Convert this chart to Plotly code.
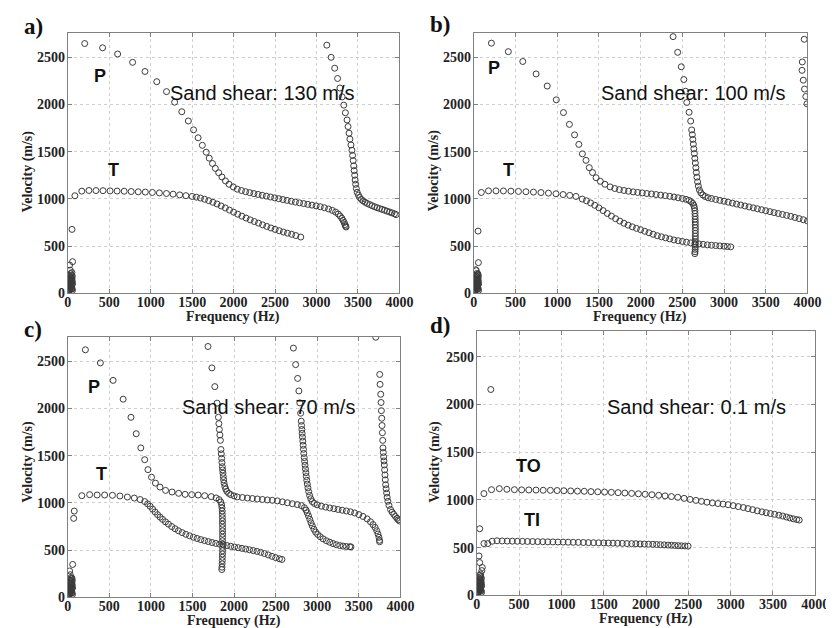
import plotly.graph_objects as go

# ---------------- data (frequency Hz, velocity m/s) ----------------
# Panel a: sand shear 130 m/s
a_low_f = [4, 8, 12, 16, 20, 24, 28, 32, 36, 40, 44, 48, 52, 56, 10, 18, 26, 34, 42, 50, 58, 14, 22, 30, 38, 46, 54, 20, 30, 40, 50, 25, 45, 35, 55, 30, 50, 22, 58, 6, 16, 26, 36, 46]
a_low_v = [5, 12, 20, 28, 35, 42, 50, 58, 65, 72, 80, 60, 45, 30, 90, 100, 110, 120, 130, 140, 100, 60, 70, 80, 95, 110, 125, 150, 160, 170, 155, 185, 195, 210, 180, 245, 220, 300, 335, 40, 75, 140, 90, 50]
a_T_f = [51, 86, 169, 255, 340, 425, 510, 595, 680, 765, 850, 935, 1020, 1105, 1190, 1270, 1350, 1425, 1500, 1550, 1600, 1650, 1700, 1750, 1800, 1850, 1900, 1950, 2000, 2050, 2100, 2150, 2200, 2250, 2300, 2350, 2400, 2450, 2500, 2550, 2600, 2650, 2700, 2750, 2810]
a_T_v = [677, 1033, 1082, 1089, 1088, 1087, 1085, 1083, 1081, 1078, 1075, 1072, 1068, 1063, 1057, 1050, 1042, 1034, 1026, 1018, 1009, 996, 981, 964, 946, 925, 904, 881, 859, 838, 817, 797, 778, 760, 743, 725, 708, 692, 677, 663, 649, 637, 625, 612, 596]
a_P1_f = [204, 420, 601, 782, 931, 1073, 1191, 1289, 1375, 1454, 1517, 1572, 1623, 1670, 1706, 1745, 1780, 1820, 1859, 1902, 1945, 1996, 2044, 2095, 2145, 2195, 2245, 2295, 2345, 2395, 2445, 2495, 2545, 2595, 2645, 2695, 2745, 2795, 2845, 2895, 2945, 2995, 3045, 3095, 3145, 3190, 3230, 3262, 3285, 3305, 3320, 3333, 3343, 3350, 3356]
a_P1_v = [2645, 2600, 2534, 2446, 2349, 2241, 2136, 2024, 1923, 1825, 1731, 1647, 1567, 1494, 1431, 1375, 1323, 1277, 1232, 1190, 1155, 1127, 1103, 1088, 1076, 1066, 1056, 1047, 1038, 1029, 1020, 1011, 1002, 993, 984, 975, 966, 958, 950, 942, 934, 926, 917, 906, 893, 878, 860, 840, 818, 795, 772, 750, 728, 712, 702]
a_P2_f = [3124, 3176, 3219, 3254, 3282, 3309, 3329, 3348, 3368, 3380, 3392, 3403, 3415, 3427, 3435, 3442, 3448, 3454, 3460, 3466, 3472, 3480, 3490, 3505, 3520, 3540, 3560, 3585, 3610, 3640, 3670, 3700, 3730, 3760, 3790, 3820, 3850, 3880, 3910, 3940, 3960]
a_P2_v = [2628, 2499, 2384, 2275, 2174, 2080, 1993, 1912, 1836, 1766, 1696, 1633, 1571, 1515, 1460, 1405, 1350, 1300, 1250, 1200, 1155, 1110, 1070, 1040, 1015, 995, 980, 965, 952, 940, 928, 917, 907, 898, 889, 880, 870, 861, 852, 842, 833]

# Panel b: sand shear 100 m/s
b_low_f = [4, 8, 12, 16, 20, 24, 28, 32, 36, 40, 44, 48, 52, 56, 10, 18, 26, 34, 42, 50, 58, 14, 22, 30, 38, 46, 54, 20, 30, 40, 50, 25, 45, 35, 55, 30, 50, 22, 55, 6, 16, 26, 36, 46]
b_low_v = [5, 12, 20, 28, 35, 42, 50, 58, 65, 72, 80, 60, 45, 30, 90, 100, 110, 120, 130, 140, 100, 60, 70, 80, 95, 110, 125, 150, 160, 170, 155, 185, 195, 210, 180, 240, 205, 250, 325, 40, 75, 140, 90, 50]
b_T_f = [51, 90, 176, 266, 355, 445, 535, 625, 715, 805, 895, 985, 1070, 1150, 1225, 1300, 1350, 1400, 1450, 1500, 1550, 1600, 1650, 1700, 1750, 1800, 1850, 1900, 1950, 2000, 2050, 2100, 2150, 2200, 2250, 2300, 2350, 2400, 2450, 2500, 2550, 2600, 2650, 2700, 2750, 2800, 2850, 2900, 2950, 3000, 3040, 3080]
b_T_v = [659, 1068, 1085, 1085, 1084, 1082, 1079, 1076, 1072, 1067, 1061, 1054, 1046, 1037, 1026, 998, 980, 957, 932, 905, 876, 846, 818, 790, 765, 742, 722, 704, 688, 673, 657, 641, 625, 610, 598, 587, 576, 565, 557, 549, 541, 534, 528, 523, 518, 513, 509, 506, 502, 499, 495, 492]
b_P1_f = [211, 414, 587, 747, 880, 989, 1075, 1146, 1208, 1259, 1302, 1345, 1384, 1423, 1466, 1517, 1572, 1634, 1690, 1745, 1800, 1855, 1910, 1965, 2020, 2075, 2130, 2185, 2240, 2295, 2350, 2400, 2450, 2500, 2545, 2580, 2605, 2625, 2638, 2645, 2650, 2652, 2653, 2654, 2655, 2655, 2656, 2656, 2656, 2656, 2656, 2656, 2656, 2655, 2654, 2652, 2650]
b_P1_v = [2649, 2559, 2455, 2323, 2195, 2049, 1914, 1789, 1678, 1577, 1477, 1408, 1331, 1279, 1224, 1186, 1155, 1127, 1110, 1098, 1089, 1081, 1074, 1068, 1063, 1057, 1052, 1046, 1040, 1034, 1027, 1020, 1012, 1004, 995, 984, 970, 952, 930, 905, 875, 845, 815, 785, 755, 725, 695, 665, 635, 605, 575, 545, 515, 490, 465, 440, 420]
b_P2_f = [2389, 2444, 2487, 2518, 2538, 2553, 2581, 2600, 2612, 2620, 2626, 2632, 2638, 2644, 2650, 2656, 2662, 2668, 2675, 2683, 2692, 2705, 2722, 2745, 2775, 2810, 2850, 2900, 2950, 3000, 3050, 3100, 3150, 3200, 3250, 3300, 3350, 3400, 3450, 3500, 3550, 3600, 3650, 3700, 3750, 3800, 3850, 3900, 3950, 4000]
b_P2_v = [2718, 2552, 2399, 2264, 2140, 2021, 1917, 1824, 1730, 1680, 1630, 1580, 1530, 1480, 1430, 1380, 1330, 1280, 1230, 1180, 1135, 1095, 1065, 1042, 1025, 1012, 1004, 994, 984, 975, 965, 955, 945, 935, 925, 915, 905, 895, 885, 875, 865, 855, 845, 835, 825, 815, 803, 791, 779, 766]
b_P3_f = [3961, 3938, 3935, 3950, 3965, 3980, 3995]
b_P3_v = [2690, 2450, 2361, 2257, 2163, 2084, 2007]

# Panel c: sand shear 70 m/s
c_low_f = [4, 8, 12, 16, 20, 24, 28, 32, 36, 40, 44, 48, 52, 56, 10, 18, 26, 34, 42, 50, 58, 14, 22, 30, 38, 46, 54, 20, 30, 40, 50, 25, 45, 35, 55, 30, 50, 22, 59, 71, 78, 6, 16, 26, 36, 46]
c_low_v = [5, 12, 20, 28, 35, 42, 50, 58, 65, 72, 80, 60, 45, 30, 90, 100, 110, 120, 130, 140, 100, 60, 70, 80, 95, 110, 125, 150, 160, 170, 155, 185, 195, 210, 180, 240, 205, 280, 349, 837, 914, 40, 75, 140, 90, 50]
c_T_f = [169, 263, 353, 443, 537, 627, 717, 800, 870, 925, 960, 990, 1020, 1050, 1080, 1110, 1140, 1175, 1210, 1250, 1290, 1330, 1375, 1420, 1465, 1510, 1555, 1600, 1645, 1690, 1735, 1780, 1825, 1870, 1915, 1960, 2005, 2050, 2095, 2140, 2185, 2230, 2275, 2320, 2365, 2410, 2455, 2500, 2545, 2575]
c_T_v = [1077, 1088, 1084, 1084, 1081, 1074, 1063, 1052, 1036, 1015, 990, 965, 935, 905, 876, 850, 826, 800, 776, 750, 727, 706, 686, 668, 652, 637, 624, 612, 601, 591, 581, 572, 564, 556, 549, 541, 533, 526, 519, 512, 504, 496, 487, 477, 464, 450, 435, 421, 409, 402]
c_P1_f = [212, 392, 545, 666, 760, 823, 878, 925, 964, 1007, 1054, 1109, 1176, 1254, 1333, 1411, 1490, 1568, 1646, 1725, 1784, 1820, 1840, 1850, 1854, 1857, 1858, 1859, 1860, 1860, 1861, 1861, 1861, 1861, 1861, 1861, 1861, 1861, 1860, 1859, 1858, 1856, 1854, 1852]
c_P1_v = [2622, 2483, 2298, 2099, 1907, 1733, 1583, 1458, 1353, 1273, 1210, 1168, 1133, 1116, 1102, 1091, 1088, 1084, 1077, 1067, 1053, 1035, 1010, 980, 948, 915, 880, 845, 810, 775, 740, 705, 670, 635, 600, 565, 530, 495, 460, 425, 390, 355, 320, 295]
c_P2_f = [1686, 1733, 1768, 1795, 1811, 1817, 1823, 1829, 1835, 1842, 1846, 1850, 1854, 1858, 1862, 1866, 1870, 1874, 1880, 1889, 1900, 1913, 1935, 1960, 2000, 2038, 2100, 2160, 2220, 2280, 2340, 2400, 2460, 2520, 2580, 2640, 2700, 2760, 2810, 2845, 2865, 2880, 2895, 2910, 2925, 2940, 2960, 2980, 3005, 3035, 3070, 3110, 3150, 3190, 3230, 3270, 3310, 3350, 3390, 3405]
c_P2_v = [2657, 2430, 2232, 2057, 1907, 1840, 1778, 1720, 1663, 1566, 1520, 1472, 1428, 1384, 1350, 1315, 1280, 1245, 1210, 1175, 1147, 1123, 1102, 1088, 1075, 1064, 1058, 1052, 1047, 1042, 1037, 1032, 1028, 1022, 1012, 1002, 992, 983, 972, 950, 925, 895, 862, 826, 790, 757, 722, 692, 666, 643, 620, 600, 584, 570, 558, 549, 543, 539, 536, 535]
c_P3_f = [2713, 2740, 2764, 2779, 2790, 2800, 2807, 2811, 2815, 2818, 2822, 2826, 2830, 2834, 2838, 2843, 2848, 2853, 2858, 2863, 2868, 2874, 2880, 2888, 2897, 2908, 2922, 2940, 2965, 2999, 3050, 3100, 3150, 3200, 3250, 3300, 3350, 3400, 3450, 3500, 3550, 3600, 3640, 3670, 3695, 3715, 3730, 3742, 3748, 3750]
c_P3_v = [2640, 2465, 2319, 2186, 2060, 1950, 1866, 1820, 1778, 1738, 1698, 1655, 1611, 1568, 1524, 1480, 1440, 1400, 1360, 1320, 1280, 1240, 1200, 1160, 1120, 1080, 1045, 1015, 995, 980, 966, 956, 947, 939, 931, 923, 915, 906, 894, 877, 857, 831, 801, 771, 741, 706, 671, 636, 605, 590]
c_P4_f = [3704, 3751, 3755, 3763, 3767, 3771, 3775, 3779, 3783, 3787, 3790, 3794, 3798, 3802, 3806, 3810, 3814, 3818, 3822, 3828, 3834, 3840, 3849, 3862, 3881, 3900, 3920, 3940, 3959, 3975, 3990]
c_P4_v = [2755, 2361, 2256, 2151, 2064, 1977, 1897, 1820, 1744, 1663, 1583, 1535, 1489, 1445, 1402, 1350, 1297, 1245, 1193, 1150, 1105, 1060, 1018, 975, 931, 903, 879, 857, 837, 822, 809]

# Panel d: sand shear 0.1 m/s
d_low_f = [4, 8, 12, 16, 20, 24, 28, 32, 36, 40, 44, 48, 52, 56, 10, 18, 26, 34, 42, 50, 58, 14, 22, 30, 38, 46, 54, 20, 30, 40, 50, 25, 45, 35, 55, 46, 66, 27, 35, 60, 6, 16, 26, 36, 46]
d_low_v = [5, 12, 20, 28, 35, 42, 50, 58, 65, 72, 80, 60, 45, 30, 90, 100, 110, 120, 130, 140, 100, 60, 70, 80, 95, 110, 125, 150, 160, 170, 155, 185, 195, 210, 180, 224, 292, 413, 344, 260, 40, 75, 140, 90, 50]
d_iso_f = [166]
d_iso_v = [2156]
d_TO_f = [85, 174, 267, 356, 445, 530, 615, 700, 785, 870, 950, 1030, 1110, 1190, 1270, 1350, 1430, 1510, 1590, 1670, 1750, 1830, 1910, 1990, 2070, 2150, 2225, 2300, 2375, 2450, 2520, 2590, 2655, 2720, 2785, 2850, 2910, 2970, 3030, 3090, 3150, 3205, 3260, 3315, 3370, 3420, 3470, 3520, 3570, 3615, 3660, 3700, 3740, 3780, 3810]
d_TO_v = [1066, 1107, 1118, 1111, 1107, 1105, 1104, 1103, 1101, 1100, 1098, 1096, 1094, 1092, 1090, 1087, 1085, 1082, 1079, 1076, 1072, 1068, 1064, 1059, 1054, 1048, 1042, 1035, 1027, 1016, 1005, 995, 985, 976, 968, 962, 956, 950, 940, 930, 920, 909, 898, 886, 875, 866, 857, 849, 840, 831, 821, 811, 802, 794, 789]
d_TI_f = [35, 85, 131, 182, 240, 300, 360, 420, 480, 540, 600, 660, 720, 780, 840, 900, 960, 1020, 1080, 1140, 1200, 1260, 1320, 1380, 1440, 1500, 1555, 1610, 1665, 1720, 1775, 1830, 1880, 1930, 1980, 2030, 2080, 2125, 2170, 2215, 2260, 2300, 2340, 2380, 2420, 2460, 2497]
d_TI_v = [698, 543, 543, 567, 572, 570, 569, 568, 567, 566, 565, 564, 563, 562, 561, 560, 559, 558, 557, 556, 555, 554, 553, 552, 551, 550, 548, 547, 546, 545, 543, 542, 541, 539, 538, 536, 535, 533, 531, 529, 527, 525, 523, 521, 519, 518, 516]

x_ticks = [0, 500, 1000, 1500, 2000, 2500, 3000, 3500, 4000]
y_ticks = [0, 500, 1000, 1500, 2000, 2500]
panel_labels = ["a)", "b)", "c)", "d)"]
shear_labels = ["Sand shear: 130 m/s", "Sand shear: 100 m/s", "Sand shear: 70 m/s", "Sand shear: 0.1 m/s"]

# ---------------- figure ----------------
W, H = 834, 628
SERIF = "Liberation Serif"
SANS = "Liberation Sans"

# plot-area boxes in pixels (left, right, top, bottom)
boxes = [(57, 396, 25, 289), (472, 813, 25, 289), (57, 397, 333, 597), (475, 821, 327, 595)]
yr_top = [2760, 2760, 2760, 2770]

panels = [
    [(a_low_f, a_low_v), (a_T_f, a_T_v), (a_P1_f, a_P1_v), (a_P2_f, a_P2_v)],
    [(b_low_f, b_low_v), (b_T_f, b_T_v), (b_P1_f, b_P1_v), (b_P2_f, b_P2_v), (b_P3_f, b_P3_v)],
    [(c_low_f, c_low_v), (c_T_f, c_T_v), (c_P1_f, c_P1_v), (c_P2_f, c_P2_v), (c_P3_f, c_P3_v), (c_P4_f, c_P4_v)],
    [(d_low_f, d_low_v), (d_iso_f, d_iso_v), (d_TO_f, d_TO_v), (d_TI_f, d_TI_v)],
]

fig = go.Figure()
for i, series in enumerate(panels):
    n = "" if i == 0 else str(i + 1)
    for f, v in series:
        fig.add_trace(go.Scatter(
            x=f, y=v, mode="markers", xaxis="x" + n, yaxis="y" + n,
            showlegend=False, hoverinfo="skip",
            marker=dict(symbol="circle-open", size=6, color="#3c3c3c",
                        line=dict(width=1, color="#3c3c3c")),
        ))

axis_common = dict(
    showline=True, linecolor="#808080", linewidth=1, mirror="ticks",
    ticks="inside", ticklen=4, tickcolor="#808080",
    showgrid=True, gridcolor="#cfcfcf", griddash="dot", gridwidth=1,
    zeroline=False,
    tickfont=dict(family=SERIF, size=14, color="#222", weight="bold"),
)

layout = dict(width=W, height=H, margin=dict(l=0, r=0, t=0, b=0),
              paper_bgcolor="white", plot_bgcolor="white", showlegend=False)
for i, (l, r, t, b) in enumerate(boxes):
    n = "" if i == 0 else str(i + 1)
    layout["xaxis" + n] = dict(axis_common, domain=[l / W, r / W], range=[0, 4000],
                               tickvals=x_ticks, anchor="y" + n, ticklabelstandoff=-4)
    layout["yaxis" + n] = dict(axis_common, domain=[1 - b / H, 1 - t / H], range=[0, yr_top[i]],
                               tickvals=y_ticks, anchor="x" + n, ticklabelstandoff=-1)
fig.update_layout(**layout)

def px(x, y):
    return x / W, 1 - y / H

ann = []
def add_text(x, y, text, font, xanchor="center", angle=0):
    xx, yy = px(x, y)
    ann.append(dict(x=xx, y=yy, xref="paper", yref="paper", text=text, showarrow=False,
                    xanchor=xanchor, yanchor="middle", font=font, textangle=angle,
                    borderpad=0))

label_pos = [(22, 19), (437, 17), (21, 326), (437, 322)]
for (x, y), t in zip(label_pos, panel_labels):
    add_text(x, y, t, dict(family=SERIF, size=23, color="#111", weight="bold"))

ytitle_pos = [(16, 166), (431, 165), (16, 460), (432, 460)]
for x, y in ytitle_pos:
    add_text(x, y, "Velocity (m/s)", dict(family=SERIF, size=14, color="#222", weight="bold"), angle=-90)

xtitle_pos = [(226, 313), (642, 313), (227, 621), (648, 619)]
for x, y in xtitle_pos:
    add_text(x, y, "Frequency (Hz)", dict(family=SERIF, size=14, color="#222", weight="bold"))

shear_pos = [(160, 86), (601, 86), (173, 404), (607, 404)]
for (x, y), t in zip(shear_pos, shear_labels):
    add_text(x, y, t, dict(family=SANS, size=20, color="#111"), xanchor="left")

mode_labels = [("P", 90, 69), ("T", 104, 164), ("P", 493, 61), ("T", 507, 164),
               ("P", 84, 384), ("T", 91, 472), ("TO", 528, 464), ("TI", 531, 519)]
for t, x, y in mode_labels:
    add_text(x, y, t, dict(family=SANS, size=18, color="#111", weight="bold"))

fig.update_layout(annotations=ann)
fig.write_html("out.html")
